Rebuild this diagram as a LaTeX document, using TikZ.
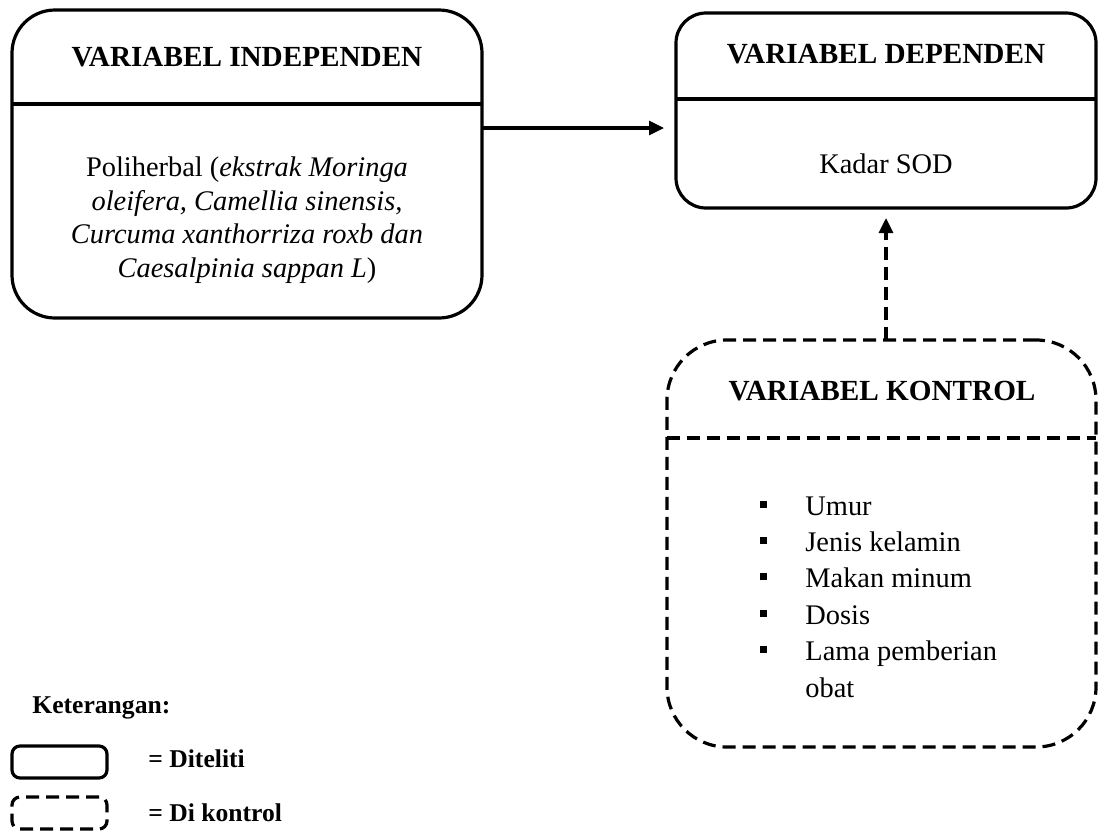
\documentclass[tikz,border=0pt]{standalone}
\usepackage{fontspec}
\setmainfont{Liberation Serif}
\usetikzlibrary{arrows.meta}
\newcommand{\sqbul}{\rule[3.7pt]{3.5pt}{3.5pt}}
\begin{document}
\begin{tikzpicture}[x=0.5pt,y=-0.5pt,
  solidbox/.style={draw, line width=1.6pt, rectangle, inner sep=0pt, outer sep=0pt},
  dashbox/.style={draw, line width=1.6pt, dash pattern=on 6.5pt off 3.5pt, rectangle, inner sep=0pt, outer sep=0pt},
  divline/.style={line width=1.6pt},
  dashline/.style={line width=1.6pt, dash pattern=on 6.5pt off 3.5pt},
  titletext/.style={anchor=base, inner sep=0pt, font=\fontsize{14.6}{17}\selectfont\bfseries},
  bodytext/.style={anchor=base, inner sep=0pt, align=center, font=\fontsize{14.2}{16.7}\selectfont},
  legtext/.style={anchor=base west, inner sep=0pt, font=\fontsize{12.8}{15}\selectfont\bfseries},
  arr/.style={line width=1.6pt, -{Triangle[length=7.5pt,width=7pt]}},
  darr/.style={line width=1.6pt, dash pattern=on 6.5pt off 3.5pt, -{Triangle[length=7.5pt,width=7pt]}}
]
\useasboundingbox (0,0) rectangle (1098,832);

% Independent box
\node[solidbox, rounded corners=21.5pt, minimum width=235pt, minimum height=154pt] (indep) at (247,164) {};
\draw[divline] (indep.west |- 0,104) -- (indep.east |- 0,104);
\node[titletext] (indeptitle) at (247,66) {VARIABEL INDEPENDEN};
\node[bodytext] (indepbody) at (247,277) {Poliherbal (\textit{ekstrak Moringa}\\\textit{oleifera, Camellia sinensis,}\\\textit{Curcuma xanthorriza roxb dan}\\\textit{Caesalpinia sappan L})};

% Dependent box
\node[solidbox, rounded corners=15pt, minimum width=210pt, minimum height=97.5pt] (dep) at (886,110.5) {};
\draw[divline] (dep.west |- 0,99) -- (dep.east |- 0,99);
\node[titletext] (deptitle) at (886,63) {VARIABEL DEPENDEN};
\node[bodytext] (depbody) at (886,173) {Kadar SOD};

% Control box
\node[dashbox, rounded corners=30pt, minimum width=214.5pt, minimum height=203.5pt] (ctrl) at (881.5,543.5) {};
\draw[dashline] (ctrl.west |- 0,438) -- (ctrl.east |- 0,438);
\node[titletext] (ctrltitle) at (882,400) {VARIABEL KONTROL};
\node[anchor=base west, inner sep=0pt, font=\fontsize{14.2}{18.2}\selectfont] (ctrllist) at (759.5,515)
{\begin{tabular}[t]{@{}l@{\hspace{19.25pt}}l@{}}
\sqbul & Umur\\
\sqbul & Jenis kelamin\\
\sqbul & Makan minum\\
\sqbul & Dosis\\
\sqbul & Lama pemberian\\
 & obat
\end{tabular}};

% Connectors
\coordinate (tipA) at (664,128);
\draw[arr] (indep.east |- tipA) -- (tipA);
\coordinate (tipB) at (886,218);
\draw[darr] (tipB |- ctrl.north) -- (tipB);

% Legend
\node[legtext] (ket) at (32,713) {Keterangan:};
\node[solidbox, rounded corners=4pt, minimum width=47.5pt, minimum height=16pt] (legsolid) at (59.5,762) {};
\node[dashbox, rounded corners=4pt, minimum width=47.5pt, minimum height=16pt] (legdash) at (59.5,813) {};
\node[legtext] (legsolidtxt) at (148,767) {= Diteliti};
\node[legtext] (legdashtxt) at (148,821) {= Di kontrol};
\end{tikzpicture}
\end{document}
